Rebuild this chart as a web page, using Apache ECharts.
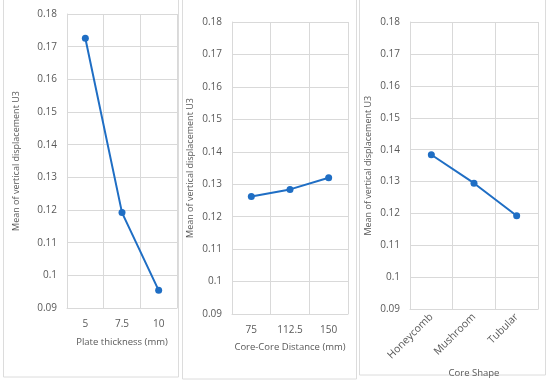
<!DOCTYPE html>
<html><head><meta charset="utf-8">
<script src="https://cdn.jsdelivr.net/npm/echarts@6/dist/echarts.min.js"></script>
<style>html,body{margin:0;padding:0;background:#fff}#c{width:550px;height:383px}</style>
</head><body><div id="c"></div>
<script>
const thicknessCats = ['5', '7.5', '10'];
const thicknessVals = [0.1726, 0.1192, 0.0954];
const distanceCats = ['75', '112.5', '150'];
const distanceVals = [0.1262, 0.1284, 0.1320];
const shapeCats = ['Honeycomb', 'Mushroom', 'Tubular'];
const shapeVals = [0.1384, 0.1295, 0.1193];
const xNames = ['Plate thickness (mm)', 'Core-Core Distance (mm)', 'Core Shape'];
const yName = 'Mean of vertical displacement U3';

const font = 'Open Sans';
const txt = '#595959';
const grid = '#d9d9d9';
const blue = '#1f6ec4';
const chart = echarts.init(document.getElementById('c'));
const grids = [
  {left: 67, top: 14, width: 110, height: 294},
  {left: 232, top: 22, width: 116, height: 292},
  {left: 410, top: 22, width: 128, height: 290}
];
const cats = [thicknessCats, distanceCats, shapeCats];
const vals = [thicknessVals, distanceVals, shapeVals];
const yGaps = [46, 37, 37];
const xGaps = [29, 28, 51];
chart.setOption({
  animation: false,
  graphic: [
    {type: 'rect', shape: {x: 3.5, y: -2, width: 175, height: 379}, style: {fill: 'none', stroke: '#dcdcdc', lineWidth: 1}},
    {type: 'rect', shape: {x: 182.5, y: -2, width: 174, height: 381}, style: {fill: 'none', stroke: '#dcdcdc', lineWidth: 1}},
    {type: 'rect', shape: {x: 359.5, y: -2, width: 186, height: 377}, style: {fill: 'none', stroke: '#dcdcdc', lineWidth: 1}}
  ],
  grid: grids.map(g => Object.assign({containLabel: false}, g)),
  xAxis: cats.map((c, i) => ({
    type: 'category', gridIndex: i, data: c, boundaryGap: true,
    name: xNames[i], nameLocation: 'middle', nameGap: xGaps[i],
    nameTextStyle: {color: txt, fontFamily: font, fontSize: 9.5},
    axisLine: {lineStyle: {color: grid}}, axisTick: {show: false},
    axisLabel: {color: txt, fontFamily: font, fontSize: i === 2 ? 10.5 : 10, margin: i === 2 ? 6 : 11, rotate: i === 2 ? 45 : 0, interval: 0},
    splitLine: {show: true, interval: 0, lineStyle: {color: grid}}
  })),
  yAxis: cats.map((c, i) => ({
    type: 'value', gridIndex: i, min: 0.09, max: 0.18, interval: 0.01,
    name: yName, nameLocation: 'middle', nameGap: yGaps[i],
    nameTextStyle: {color: txt, fontFamily: font, fontSize: 9},
    axisLine: {show: true, lineStyle: {color: grid}}, axisTick: {show: false},
    axisLabel: {color: txt, fontFamily: font, fontSize: 10, margin: 10},
    splitLine: {lineStyle: {color: grid}}
  })),
  series: vals.map((v, i) => ({
    type: 'line', xAxisIndex: i, yAxisIndex: i, data: v,
    symbol: 'circle', symbolSize: 7,
    lineStyle: {color: blue, width: 2}, itemStyle: {color: blue}
  }))
});
</script></body></html>
